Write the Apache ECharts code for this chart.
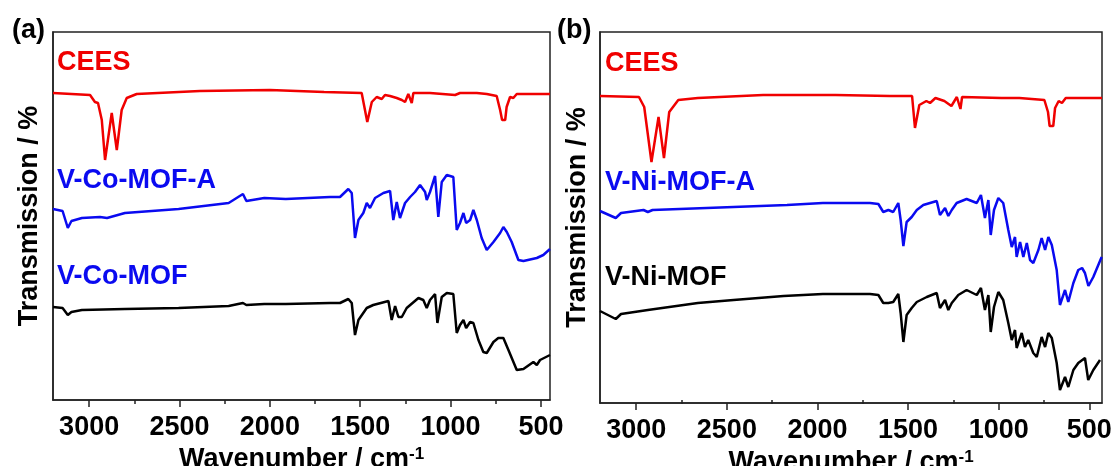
<!DOCTYPE html>
<html>
<head>
<meta charset="utf-8">
<script src="https://cdn.jsdelivr.net/npm/echarts@6/dist/echarts.min.js"></script>
<style>
html,body{margin:0;padding:0;background:#fff;}
#chart{width:1113px;height:466px;}
</style>
</head>
<body>
<div id="chart"></div>
<script>
// ---- Data (wavenumber in cm^-1, transmission in arbitrary offset units) ----
const majorTicks = [500, 1000, 1500, 2000, 2500, 3000];
const minorTicks = [750, 1250, 1750, 2250, 2750];

const labelsA = ['CEES', 'V-Co-MOF-A', 'V-Co-MOF'];
const labelsB = ['CEES', 'V-Ni-MOF-A', 'V-Ni-MOF'];

// Panel (a)
const ceesA_wn = [3200, 2995, 2968, 2951, 2930, 2912, 2875, 2847, 2820, 2792, 2737, 2387, 2000, 1700, 1492, 1461, 1436, 1409, 1381, 1363, 1335, 1298, 1270, 1252, 1234, 1215, 1206, 1114, 975, 948, 855, 800, 745, 726, 715, 698, 690, 671, 653, 634, 450];
const ceesA_T  = [307, 305, 298, 297, 280, 240, 287, 250, 290, 302, 306, 309, 310, 308, 307, 278, 298, 303, 301, 305, 304, 302, 300, 298, 306, 297, 307, 307, 305, 307, 307, 306, 304, 290, 280, 280, 293, 303, 302, 306, 306];

const coA_wn = [3200, 3147, 3118, 3098, 3040, 2940, 2901, 2802, 2505, 2228, 2149, 2130, 2031, 1912, 1667, 1612, 1566, 1547, 1529, 1510, 1483, 1464, 1446, 1418, 1372, 1335, 1317, 1298, 1280, 1252, 1224, 1197, 1169, 1141, 1132, 1114, 1086, 1068, 1049, 1021, 985, 966, 948, 929, 914, 892, 874, 855, 828, 800, 763, 726, 708, 689, 662, 625, 597, 523, 487, 450];
const coA_T  = [191, 189, 172, 179, 182, 183, 182, 187, 191, 197, 206, 199, 202, 201, 203, 203, 211, 207, 162, 180, 187, 197, 192, 202, 207, 209, 180, 198, 182, 197, 203, 208, 215, 208, 200, 208, 224, 183, 218, 225, 223, 170, 177, 187, 177, 180, 190, 180, 162, 150, 158, 167, 173, 168, 158, 140, 139, 142, 145, 151];

const co_wn = [3200, 3147, 3118, 3098, 3040, 2802, 2505, 2228, 2149, 2130, 2031, 1912, 1667, 1612, 1566, 1547, 1529, 1510, 1464, 1428, 1344, 1326, 1307, 1289, 1270, 1243, 1178, 1151, 1132, 1114, 1086, 1073, 1049, 1021, 985, 966, 948, 929, 914, 892, 874, 846, 819, 800, 763, 736, 708, 680, 634, 597, 542, 523, 505, 450];
const co_T  = [93, 92, 85, 88, 90, 91, 92, 94, 97, 95, 96, 96, 97, 97, 101, 97, 65, 80, 92, 95, 99, 80, 94, 83, 83, 92, 102, 100, 92, 100, 106, 77, 103, 107, 106, 67, 75, 80, 72, 78, 77, 60, 48, 47, 58, 62, 62, 50, 30, 31, 38, 35, 40, 45];

// Panel (b)
const ceesB_wn = [3200, 2985, 2956, 2916, 2877, 2847, 2818, 2768, 2660, 2300, 1900, 1600, 1478, 1462, 1438, 1399, 1379, 1349, 1300, 1261, 1231, 1211, 1202, 985, 886, 748, 728, 719, 699, 689, 669, 651, 630, 430];
const ceesB_T  = [304, 303, 293, 238, 283, 242, 288, 300, 302, 305, 305, 304, 304, 272, 295, 299, 297, 302, 299, 294, 303, 291, 303, 302, 302, 300, 288, 274, 274, 292, 299, 297, 302, 302];

const niA_wn = [3200, 3113, 3084, 2960, 2936, 2910, 2463, 2168, 1970, 1710, 1664, 1637, 1609, 1582, 1554, 1541, 1526, 1508, 1480, 1452, 1416, 1379, 1342, 1324, 1296, 1278, 1259, 1232, 1177, 1121, 1098, 1076, 1057, 1044, 1026, 1002, 975, 947, 928, 910, 901, 882, 864, 845, 827, 809, 781, 763, 744, 726, 707, 680, 662, 634, 616, 588, 561, 540, 524, 505, 478, 432];
const niA_T  = [189, 182, 187, 190, 188, 190, 193, 195, 197, 197, 196, 188, 190, 188, 197, 180, 154, 178, 183, 190, 195, 197, 199, 185, 192, 184, 190, 197, 201, 197, 205, 182, 200, 165, 190, 202, 197, 170, 153, 163, 143, 158, 143, 157, 140, 137, 150, 162, 150, 163, 155, 130, 95, 110, 98, 117, 130, 132, 127, 114, 123, 143];

const ni_wn = [3200, 3113, 3084, 2936, 2660, 2463, 2187, 1970, 1710, 1664, 1637, 1609, 1582, 1554, 1541, 1526, 1508, 1480, 1452, 1397, 1342, 1324, 1296, 1278, 1259, 1223, 1177, 1121, 1098, 1076, 1057, 1044, 1026, 1002, 975, 947, 928, 910, 901, 873, 855, 837, 809, 790, 763, 744, 726, 707, 680, 662, 634, 616, 588, 561, 524, 506, 478, 441];
const ni_T  = [89, 81, 86, 90, 97, 100, 104, 106, 106, 105, 97, 97, 98, 106, 87, 58, 85, 92, 98, 103, 107, 92, 100, 90, 97, 105, 110, 105, 112, 90, 105, 68, 93, 108, 100, 77, 60, 70, 52, 67, 53, 60, 47, 43, 63, 53, 67, 62, 37, 10, 23, 13, 30, 37, 42, 20, 30, 40];

// ---- Styling ----
const FONT = '"Liberation Sans", Arial, Helvetica, sans-serif';
const RED = '#f00000', BLUE = '#0a0af0', BLACK = '#000000';
const AX = '#222222';

function zip(a, b) { return a.map((x, i) => [x, b[i]]); }

function majorX(gridIndex, min, gap) {
  return {
    gridIndex, type: 'value', min, max: 3200, inverse: true, position: 'bottom',
    axisLine: { show: true, onZero: false, lineStyle: { color: AX, width: 1.5 } },
    axisTick: { show: true, customValues: majorTicks, length: 7, lineStyle: { color: AX, width: 1.5 } },
    axisLabel: { show: true, customValues: majorTicks, margin: 14, color: '#000',
      fontFamily: FONT, fontWeight: 'bold', fontSize: 27, formatter: v => String(v) },
    splitLine: { show: false },
    name: '{n|Wavenumber / cm}{s|-1}',
    nameLocation: 'middle', nameGap: gap,
    nameTextStyle: {
      rich: {
        n: { fontFamily: FONT, fontWeight: 'bold', fontSize: 27, color: '#000' },
        s: { fontFamily: FONT, fontWeight: 'bold', fontSize: 17, color: '#000', verticalAlign: 'top' }
      }
    }
  };
}
function minorX(gridIndex, min) {
  return {
    gridIndex, type: 'value', min, max: 3200, inverse: true, position: 'bottom',
    axisLine: { show: false },
    axisTick: { show: true, customValues: minorTicks, length: 4, lineStyle: { color: AX, width: 1.5 } },
    axisLabel: { show: false }, splitLine: { show: false }
  };
}
function yAx(gridIndex, min, gap) {
  return {
    gridIndex, type: 'value', min, max: 368,
    axisLine: { show: true, lineStyle: { color: AX, width: 1.5 } },
    axisTick: { show: false }, axisLabel: { show: false }, splitLine: { show: false },
    name: 'Transmission / %', nameLocation: 'middle', nameGap: gap, nameRotate: 90,
    nameTextStyle: { fontFamily: FONT, fontWeight: 'bold', fontSize: 27, color: '#000' }
  };
}
function line(x, y, color, xi, yi) {
  return { type: 'line', xAxisIndex: xi, yAxisIndex: yi, data: zip(x, y), showSymbol: false,
    symbol: 'none', lineStyle: { color, width: 2.5 }, itemStyle: { color }, silent: true };
}
function txt(text, left, top, color) {
  return { type: 'text', left, top, silent: true,
    style: { text, fill: color, font: 'bold 27px ' + FONT } };
}

const chart = echarts.init(document.getElementById('chart'), null, { renderer: 'canvas' });
chart.setOption({
  animation: false,
  backgroundColor: '#fff',
  grid: [
    { left: 53, top: 32, width: 497, height: 368, show: true, borderColor: AX, borderWidth: 1.5,
      containLabel: false, outerBoundsMode: 'none' },
    { left: 600, top: 32, width: 502, height: 371, show: true, borderColor: AX, borderWidth: 1.5,
      containLabel: false, outerBoundsMode: 'none' }
  ],
  xAxis: [majorX(0, 450, 39), minorX(0, 450), majorX(1, 430, 42), minorX(1, 430)],
  yAxis: [yAx(0, 0, 10), yAx(1, -3, 9)],
  series: [
    line(ceesA_wn, ceesA_T, RED, 0, 0),
    line(coA_wn, coA_T, BLUE, 0, 0),
    line(co_wn, co_T, BLACK, 0, 0),
    line(ceesB_wn, ceesB_T, RED, 2, 1),
    line(niA_wn, niA_T, BLUE, 2, 1),
    line(ni_wn, ni_T, BLACK, 2, 1)
  ],
  graphic: [
    txt('(a)', 12, 17, '#000'),
    txt('(b)', 557, 17, '#000'),
    txt(labelsA[0], 57, 49, RED),
    txt(labelsA[1], 57, 167, BLUE),
    txt(labelsA[2], 57, 263, BLUE),
    txt(labelsB[0], 605, 50, RED),
    txt(labelsB[1], 605, 169, BLUE),
    txt(labelsB[2], 605, 264, BLACK)
  ]
});
</script>
</body>
</html>
